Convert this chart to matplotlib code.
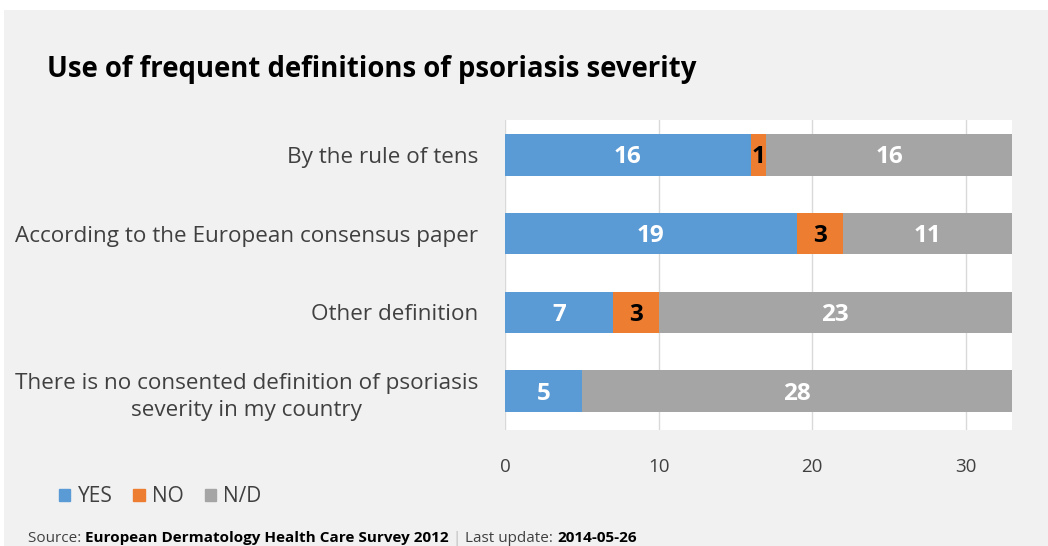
import matplotlib.pyplot as plt
import matplotlib.patches as mpatches
import numpy as np

plt.rcParams['font.family'] = ['Open Sans', 'DejaVu Sans']

categories = ['By the rule of tens',
              'According to the European consensus paper',
              'Other definition',
              'There is no consented definition of psoriasis\nseverity in my country']
yes_vals = [16, 19, 7, 5]
no_vals = [1, 3, 3, 0]
nd_vals = [16, 11, 23, 28]
series_names = ['YES', 'NO', 'N/D']
colors = ['#5b9bd5', '#ed7d31', '#a5a5a5']
label_colors = ['white', 'black', 'white']

fig = plt.figure(figsize=(10.48, 5.46), dpi=100)
fig.patch.set_facecolor('white')
# grey panel behind everything (the top strip stays white)
fig.add_artist(mpatches.Rectangle((0.004, 0), 0.996, 1 - 10 / 546, transform=fig.transFigure,
                                  facecolor='#f1f1f1', edgecolor='none', zorder=-10))

ax = fig.add_axes([505 / 1048, 1 - 430 / 546, 507 / 1048, 310 / 546])
ax.set_facecolor('white')

y = np.arange(len(categories))
left = np.zeros(len(categories))
for vals, name, c, lc in zip([yes_vals, no_vals, nd_vals], series_names, colors, label_colors):
    vals = np.array(vals)
    ax.barh(y, vals, left=left, height=0.53, color=c, label=name, zorder=3)
    for yi, (l, v) in enumerate(zip(left, vals)):
        if v > 0:
            ax.text(l + v / 2, yi + 0.03, str(v), ha='center', va='center', color=lc,
                    fontsize=17.5, fontweight='bold', zorder=4)
    left = left + vals

ax.set_xlim(0, 33)
ax.set_ylim(3.49, -0.44)
ax.set_xticks([0, 10, 20, 30])
ax.set_yticks(y)
ax.set_yticklabels(categories, fontsize=16.2, color='#404040', ha='right')
ax.tick_params(axis='x', labelsize=13.5, colors='#404040', length=0, pad=20)
ax.tick_params(axis='y', length=0, pad=19)
ax.grid(axis='x', color='#d9d9d9', linewidth=1, zorder=0)
for s in ax.spines.values():
    s.set_visible(False)
for t in ax.get_yticklabels():
    t.set_multialignment('center')
    t.set_linespacing(1.4)

fig.text(47 / 1048, 1 - 70 / 546, 'Use of frequent definitions of psoriasis severity',
         fontsize=19.8, fontweight='bold', color='black', va='center')

handles = [mpatches.Patch(color=c) for c in colors]
fig.legend(handles, series_names, loc='center left', bbox_to_anchor=(40 / 1048, 1 - 497 / 546),
           ncol=3, frameon=False, fontsize=15, handlelength=0.55, handleheight=0.55,
           handletextpad=0.35, columnspacing=1.0, labelcolor='#404040')

# source line built piece by piece
parts = [('Source: ', 'normal', '#404040'),
         ('European Dermatology Health Care Survey 2012', 'bold', 'black'),
         (' | ', 'normal', '#bbbbbb'),
         ('Last update: ', 'normal', '#404040'),
         ('2014-05-26', 'bold', 'black')]
renderer = fig.canvas.get_renderer()
x = 28
for txt, w, c in parts:
    t = fig.text(x / 1048, 1 - 538 / 546, txt, fontsize=11, fontweight=w, color=c, va='center')
    x += t.get_window_extent(renderer).width

fig.savefig('out.png', dpi=100, facecolor=fig.get_facecolor())
